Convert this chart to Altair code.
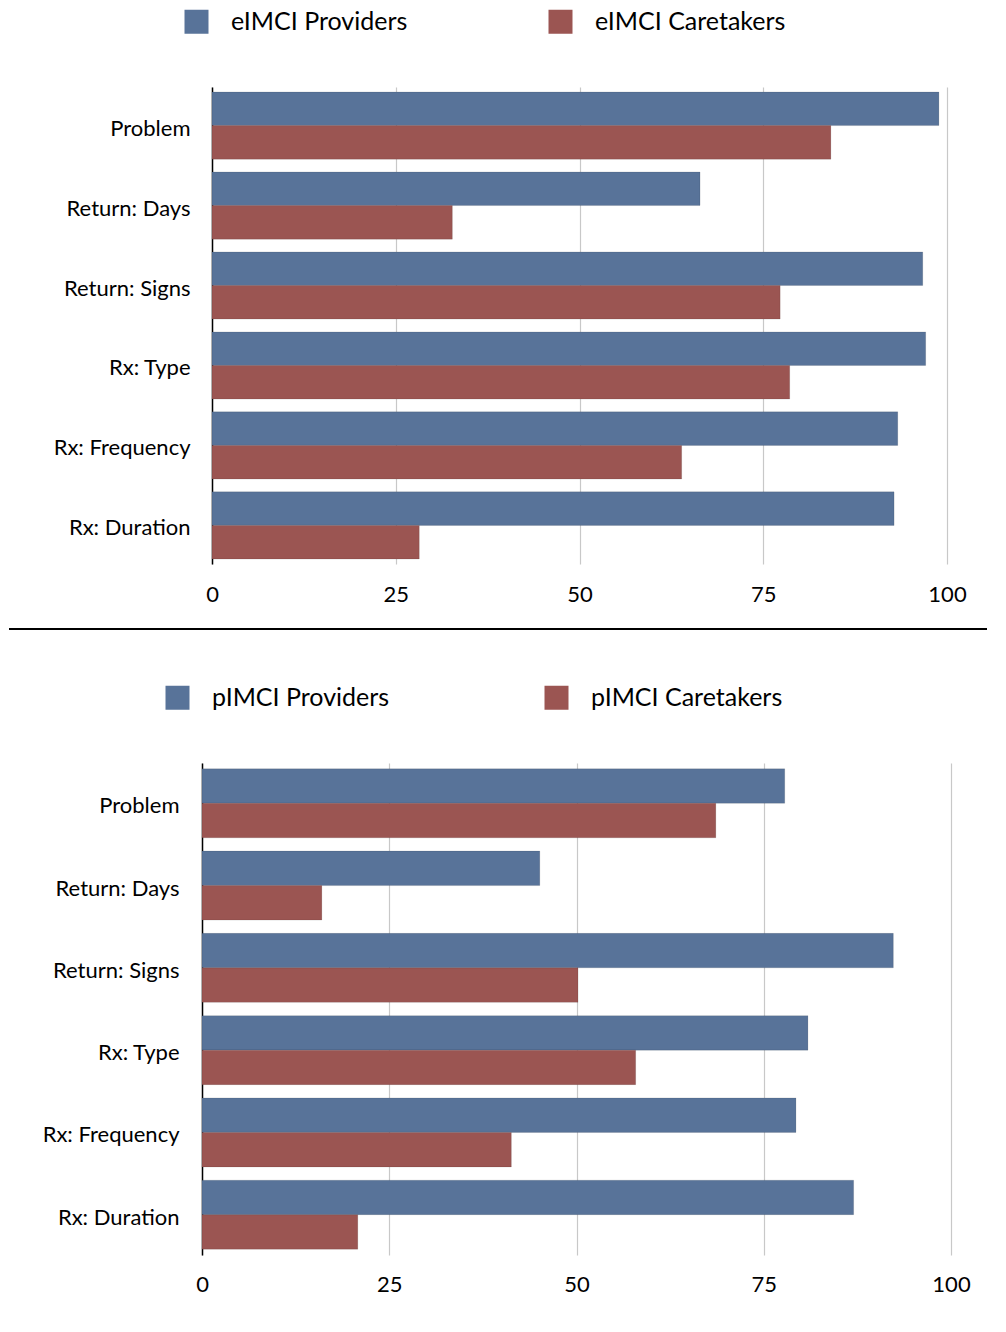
import altair as alt
import pandas as pd

categories = ["Problem", "Return: Days", "Return: Signs", "Rx: Type", "Rx: Frequency", "Rx: Duration"]
ticks = [0, 25, 50, 75, 100]

e_series = ["eIMCI Providers", "eIMCI Caretakers"]
e_providers = [98.9, 66.4, 96.7, 97.1, 93.3, 92.8]
e_caretakers = [84.2, 32.7, 77.3, 78.6, 63.9, 28.2]

p_series = ["pIMCI Providers", "pIMCI Caretakers"]
p_providers = [77.8, 45.1, 92.3, 80.9, 79.3, 87.0]
p_caretakers = [68.6, 16.0, 50.2, 57.9, 41.3, 20.8]

colors = ["#587399", "#9b5552"]
FONT = "Lato"


def panel(series, prov, care, width, height, po, barh, lab_pad_y, lab_pad_x, legx, legy, colpad,
          shift=0, sep=False):
    df_p = pd.DataFrame({"cat": categories, "series": series[0], "value": prov})
    df_c = pd.DataFrame({"cat": categories, "series": series[1], "value": care})

    x = alt.X("value:Q", scale=alt.Scale(domain=[0, 100], nice=False, range=[shift, width]),
              axis=alt.Axis(values=ticks, title=None, domain=False, ticks=False,
                            grid=True, gridColor="#c8c8c8", gridWidth=1.2,
                            labelFontSize=22, labelFont=FONT, labelColor="#000",
                            labelPadding=lab_pad_x, labelFlush=False))
    y = alt.Y("cat:N", sort=categories,
              scale=alt.Scale(type="band", paddingInner=0.16, paddingOuter=po),
              axis=alt.Axis(title=None, ticks=False, domain=True, domainColor="#000",
                            domainWidth=1.5, labelFontSize=22, labelFont=FONT,
                            labelColor="#000", labelPadding=lab_pad_y, labelLimit=300,
                            labelOffset=3, offset=-shift))
    color = alt.Color("series:N", sort=series,
                      scale=alt.Scale(domain=series, range=colors),
                      legend=alt.Legend(title=None, orient="none", legendX=legx, legendY=legy,
                                        direction="horizontal", symbolType="square",
                                        symbolSize=576, symbolStrokeWidth=0,
                                        symbolOpacity=1, labelFontSize=25, labelFont=FONT,
                                        labelColor="#000", labelOffset=22,
                                        columnPadding=colpad, labelLimit=400))

    prov_bars = alt.Chart(df_p).mark_bar(stroke="#00000022", strokeWidth=0.8, height=barh,
                                         yOffset=-barh / 2).encode(x=x, y=y, color=color)
    care_bars = alt.Chart(df_c).mark_bar(stroke="#00000022", strokeWidth=0.8, height=barh,
                                         yOffset=barh / 2).encode(x=x, y=y, color=color)
    layers = [prov_bars, care_bars]
    if sep:
        rule = alt.Chart(df_p).mark_rule(color="#000", strokeWidth=1.5).encode(
            x=alt.value(-193), x2=alt.value(785), y=alt.value(-134))
        layers.insert(0, rule)
    return alt.layer(*layers).properties(width=width, height=height)


top = panel(e_series, e_providers, e_caretakers, 745, 477, 0.0625, 33.6, 22, 20, -18, -78, 140, shift=10)
bottom = panel(p_series, p_providers, p_caretakers, 749, 492, 0.07, 34.5, 23, 19, -37, -78, 154, sep=True)

chart = alt.vconcat(top, bottom, spacing=23).resolve_scale(color="independent").resolve_legend(
    color="independent").properties(padding={"top": 9, "left": 8, "right": 10, "bottom": 10}
).configure_view(stroke=None)

chart.save("out.html", embed_options={"renderer": "svg", "actions": False})
